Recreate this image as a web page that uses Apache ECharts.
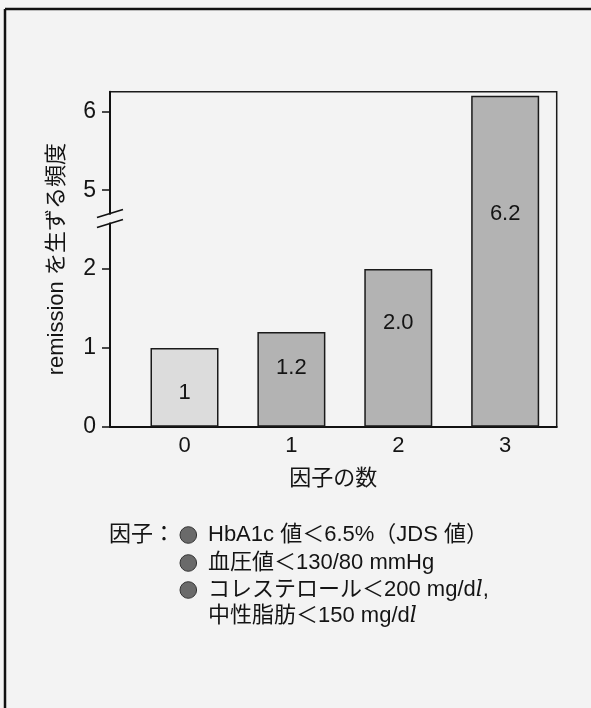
<!DOCTYPE html>
<html>
<head>
<meta charset="utf-8">
<script src="https://cdn.jsdelivr.net/npm/echarts@6/dist/echarts.min.js"></script>
<style>
html,body{margin:0;padding:0;background:#f3f3f3;}
#chart{width:591px;height:708px;}
</style>
</head>
<body>
<div id="chart"></div>
<script>
// ---- data ----
const categories = ['0', '1', '2', '3'];
const values = [1, 1.2, 2.0, 6.2];
const barLabels = ['1', '1.2', '2.0', '6.2'];
const yTickValues = [0, 1, 2, 5, 6];
const yAxisName = 'remission を生ずる頻度';
const xAxisName = '因子の数';
const legendTitle = '因子：';
const factorLines = [
  'HbA1c 値＜6.5%（JDS 値）',
  '血圧値＜130/80 mmHg',
  'コレステロール＜200 mg/d{i|l},',
  '中性脂肪＜150 mg/d{i|l}'
];

// ---- axis break (2 → 5 shown as one unit) ----
const breakStart = 2, breakEnd = 5, breakSpan = 1;
const shift = breakEnd - breakStart - breakSpan;
const toVisual = v => v <= breakStart ? v : v - shift;
const toActual = v => v <= breakStart ? v : v + shift;
const yMaxActual = 6.25;

const FONT = '"Liberation Sans", "Noto Sans CJK JP", sans-serif';
const BG = '#f3f3f3';
const TXT = '#141414';
const xMin = -0.697, xMax = 3.482;

const chart = echarts.init(document.getElementById('chart'), null, {renderer: 'canvas'});

const barColors = ['#dcdcdc', '#b3b3b3', '#b3b3b3', '#b3b3b3'];
const labelDy = [6, -11, -25, -47];

const option = {
  backgroundColor: BG,
  animation: false,
  textStyle: {fontFamily: FONT},
  grid: {
    left: 110, right: 34.3, top: 91.7, bottom: 281.3,
    show: true, borderColor: '#1a1a1a', borderWidth: 1.5, backgroundColor: 'transparent'
  },
  xAxis: {
    type: 'value', min: xMin, max: xMax,
    name: xAxisName, nameLocation: 'middle', nameGap: 41,
    nameTextStyle: {fontSize: 22, color: TXT, fontFamily: FONT},
    axisLine: {show: true, onZero: false, lineStyle: {color: '#111', width: 2}},
    axisTick: {show: false},
    splitLine: {show: false},
    axisLabel: {
      customValues: categories.map((c, i) => i),
      formatter: v => categories[Math.round(v)],
      fontSize: 22, color: TXT, margin: 8, fontFamily: FONT
    }
  },
  yAxis: {
    type: 'value', min: 0, max: toVisual(yMaxActual),
    name: yAxisName, nameLocation: 'middle', nameGap: 42,
    nameTextStyle: {fontSize: 22, color: TXT, fontFamily: FONT},
    axisLine: {show: true, onZero: false, lineStyle: {color: '#111', width: 2}},
    axisTick: {show: true, length: 8, customValues: yTickValues.map(toVisual), lineStyle: {color: '#111', width: 1.5}},
    splitLine: {show: false},
    axisLabel: {
      customValues: yTickValues.map(toVisual),
      formatter: v => String(Math.round(toActual(v) * 10) / 10),
      fontSize: 23, color: TXT, margin: 14, fontFamily: FONT
    }
  },
  series: [{
    type: 'bar',
    barWidth: 68,
    data: values.map((v, i) => ({
      value: [i, toVisual(v)],
      itemStyle: {color: barColors[i], borderColor: '#1a1a1a', borderWidth: 1.5},
      label: {offset: [0, labelDy[i]]}
    })),
    label: {
      show: true, position: 'inside',
      formatter: p => barLabels[p.dataIndex],
      fontSize: 22, color: TXT, fontFamily: FONT
    }
  }]
};
chart.setOption(option);

// decorations: break mark, legend text, outer frame
const xa = chart.convertToPixel({xAxisIndex: 0}, xMin);
const yb = chart.convertToPixel({yAxisIndex: 0}, 2.64);

const legendX = 109, circleX = 188.3, textX = 208;
const lineYs = [535, 563, 590, 616];

const graphics = [
  {type: 'line', shape: {x1: 5, y1: 9, x2: 5, y2: 708}, style: {stroke: '#111', lineWidth: 2.5}, z: 100},
  {type: 'line', shape: {x1: 5, y1: 9, x2: 591, y2: 9}, style: {stroke: '#111', lineWidth: 2.5}, z: 100},
  {type: 'rect', shape: {x: xa - 2.5, y: yb - 4, width: 5, height: 8}, style: {fill: BG}, z: 100},
  {type: 'line', shape: {x1: xa - 13, y1: yb - 1, x2: xa + 13, y2: yb - 9}, style: {stroke: '#111', lineWidth: 1.6}, z: 101},
  {type: 'line', shape: {x1: xa - 13, y1: yb + 9, x2: xa + 13, y2: yb + 1}, style: {stroke: '#111', lineWidth: 1.6}, z: 101},
  {type: 'text', x: legendX, y: lineYs[0], style: {text: legendTitle, fontSize: 22, fontFamily: FONT, fill: TXT, verticalAlign: 'middle'}, z: 100}
];
factorLines.forEach((t, i) => {
  if (i < 3) {
    graphics.push({type: 'circle', shape: {cx: circleX, cy: lineYs[i], r: 8.3},
      style: {fill: '#6a6a6a', stroke: '#333', lineWidth: 1}, z: 100});
  }
  graphics.push({type: 'text', x: textX, y: lineYs[i], style: {
    text: t, fontSize: 22, fontFamily: FONT, fill: TXT, verticalAlign: 'middle',
    rich: {i: {fontStyle: 'italic', fontSize: 22, fontFamily: '"DejaVu Serif", serif', fill: TXT}}
  }, z: 100});
});
chart.setOption({graphic: graphics});
</script>
</body>
</html>
